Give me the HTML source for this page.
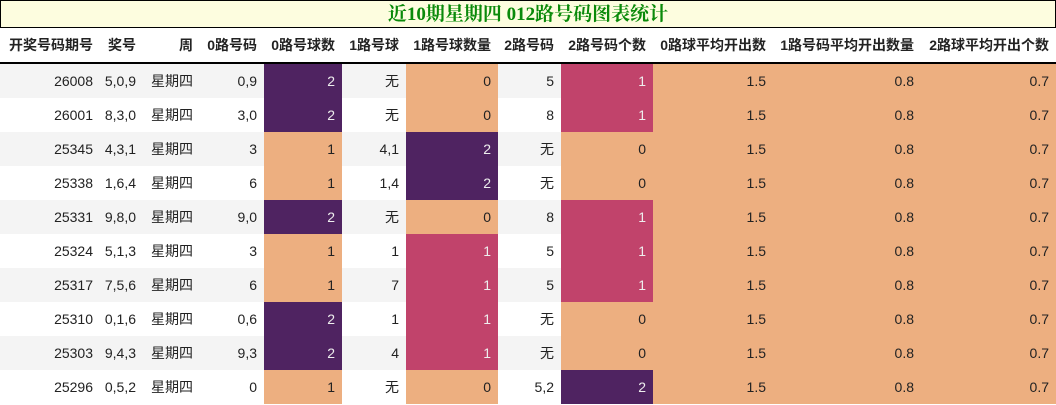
<!DOCTYPE html>
<html><head><meta charset="utf-8"><style>
body{margin:0;width:1056px;height:405px;background:#fff;overflow:hidden;font-family:"Liberation Sans","Noto Sans CJK SC",sans-serif;}
#t{position:absolute;left:0;top:0;width:1054px;height:26px;border:1px solid #000;background:#fdfddf;color:#0a8a0a;font:bold 19px "Liberation Serif","Noto Serif CJK SC",serif;text-align:center;line-height:27px;}
table{position:absolute;left:0;top:28px;border-collapse:collapse;table-layout:fixed;font-size:14px;color:#222}
th{height:34px;font-weight:bold;text-align:right;padding:0 7px 0 0;border-bottom:2px solid #000;white-space:nowrap;overflow:visible}
td{height:34px;padding:0 7px 0 0;text-align:right;white-space:nowrap}
tr.o td{background:#f4f4f4}
tr td.P{background:#4f2361;color:#eee}
tr td.K{background:#c1436b;color:#eee}
tr td.O{background:#edaf80}
</style></head><body>
<div id="t">近10期星期四 012路号码图表统计</div>
<table>
<colgroup><col style="width:100px"><col style="width:43px"><col style="width:57px"><col style="width:64px"><col style="width:78px"><col style="width:64px"><col style="width:92px"><col style="width:63px"><col style="width:92px"><col style="width:120px"><col style="width:148px"><col style="width:135px"></colgroup>
<tr><th>开奖号码期号</th><th>奖号</th><th>周</th><th>0路号码</th><th>0路号球数</th><th>1路号球</th><th>1路号球数量</th><th>2路号码</th><th>2路号码个数</th><th>0路球平均开出数</th><th>1路号码平均开出数量</th><th>2路球平均开出个数</th></tr>
<tr class="o"><td>26008</td><td>5,0,9</td><td>星期四</td><td>0,9</td><td class="P">2</td><td>无</td><td class="O">0</td><td>5</td><td class="K">1</td><td class="O">1.5</td><td class="O">0.8</td><td class="O">0.7</td></tr>
<tr><td>26001</td><td>8,3,0</td><td>星期四</td><td>3,0</td><td class="P">2</td><td>无</td><td class="O">0</td><td>8</td><td class="K">1</td><td class="O">1.5</td><td class="O">0.8</td><td class="O">0.7</td></tr>
<tr class="o"><td>25345</td><td>4,3,1</td><td>星期四</td><td>3</td><td class="O">1</td><td>4,1</td><td class="P">2</td><td>无</td><td class="O">0</td><td class="O">1.5</td><td class="O">0.8</td><td class="O">0.7</td></tr>
<tr><td>25338</td><td>1,6,4</td><td>星期四</td><td>6</td><td class="O">1</td><td>1,4</td><td class="P">2</td><td>无</td><td class="O">0</td><td class="O">1.5</td><td class="O">0.8</td><td class="O">0.7</td></tr>
<tr class="o"><td>25331</td><td>9,8,0</td><td>星期四</td><td>9,0</td><td class="P">2</td><td>无</td><td class="O">0</td><td>8</td><td class="K">1</td><td class="O">1.5</td><td class="O">0.8</td><td class="O">0.7</td></tr>
<tr><td>25324</td><td>5,1,3</td><td>星期四</td><td>3</td><td class="O">1</td><td>1</td><td class="K">1</td><td>5</td><td class="K">1</td><td class="O">1.5</td><td class="O">0.8</td><td class="O">0.7</td></tr>
<tr class="o"><td>25317</td><td>7,5,6</td><td>星期四</td><td>6</td><td class="O">1</td><td>7</td><td class="K">1</td><td>5</td><td class="K">1</td><td class="O">1.5</td><td class="O">0.8</td><td class="O">0.7</td></tr>
<tr><td>25310</td><td>0,1,6</td><td>星期四</td><td>0,6</td><td class="P">2</td><td>1</td><td class="K">1</td><td>无</td><td class="O">0</td><td class="O">1.5</td><td class="O">0.8</td><td class="O">0.7</td></tr>
<tr class="o"><td>25303</td><td>9,4,3</td><td>星期四</td><td>9,3</td><td class="P">2</td><td>4</td><td class="K">1</td><td>无</td><td class="O">0</td><td class="O">1.5</td><td class="O">0.8</td><td class="O">0.7</td></tr>
<tr><td>25296</td><td>0,5,2</td><td>星期四</td><td>0</td><td class="O">1</td><td>无</td><td class="O">0</td><td>5,2</td><td class="P">2</td><td class="O">1.5</td><td class="O">0.8</td><td class="O">0.7</td></tr>
</table>
</body></html>
